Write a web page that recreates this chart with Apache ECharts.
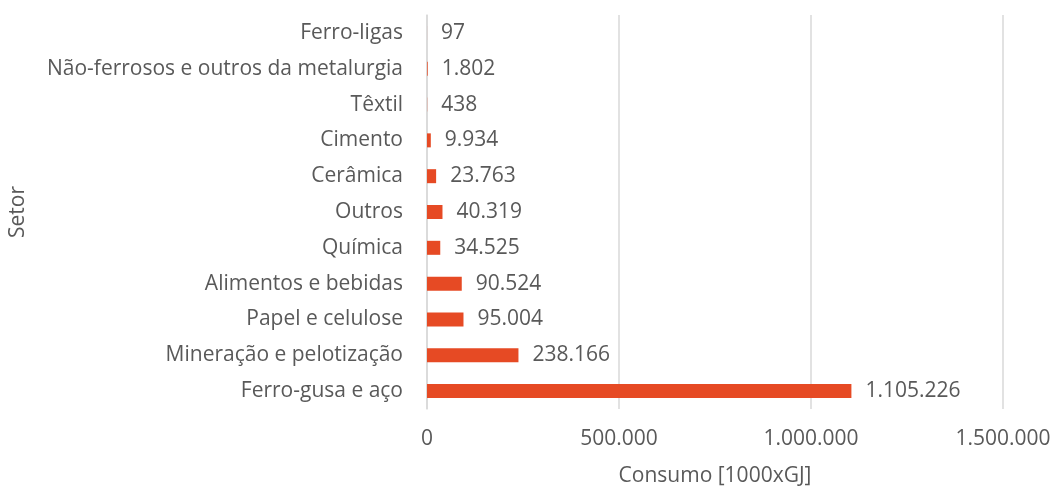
<!DOCTYPE html>
<html>
<head>
<meta charset="utf-8">
<script src="https://cdn.jsdelivr.net/npm/echarts@6/dist/echarts.min.js"></script>
<style>
html, body { margin: 0; padding: 0; background: #fff; }
#chart { width: 1053px; height: 486px; }
</style>
</head>
<body>
<div id="chart"></div>
<script>
// setores, de baixo para cima
var setores = ['Ferro-gusa e aço', 'Mineração e pelotização', 'Papel e celulose',
    'Alimentos e bebidas', 'Química', 'Outros', 'Cerâmica', 'Cimento', 'Têxtil',
    'Não-ferrosos e outros da metalurgia', 'Ferro-ligas'];
var consumo = [1105226, 238166, 95004, 90524, 34525, 40319, 23763, 9934, 438, 1802, 97];
var xTicks = [0, 500000, 1000000, 1500000];

function fmt(v) {
    return String(v).replace(/\B(?=(\d{3})+(?!\d))/g, '.');
}

var fonte = '"Open Sans", sans-serif';
var cinza = '#595959';

var option = {
    animation: false,
    grid: { left: 427, right: 50, top: 15, bottom: 77, outerBoundsMode: 'none' },
    xAxis: {
        type: 'value',
        min: xTicks[0],
        max: xTicks[xTicks.length - 1],
        interval: 500000,
        name: 'Consumo [1000xGJ]',
        nameLocation: 'middle',
        nameGap: 57,
        nameTextStyle: { color: cinza, fontSize: 21, fontFamily: fonte },
        axisLine: { show: false },
        axisTick: { show: false },
        axisLabel: { color: cinza, fontSize: 21, fontFamily: fonte, margin: 20, formatter: fmt },
        splitLine: { lineStyle: { color: '#d9d9d9', width: 1.5 } }
    },
    yAxis: {
        type: 'category',
        data: setores,
        name: 'Setor',
        nameLocation: 'middle',
        nameGap: 398,
        nameRotate: 90,
        nameTextStyle: { color: cinza, fontSize: 21, fontFamily: fonte },
        axisLine: { show: true, lineStyle: { color: '#d9d9d9', width: 1.5 } },
        axisTick: { show: false },
        axisLabel: { color: cinza, fontSize: 21, fontFamily: fonte, margin: 24 }
    },
    series: [{
        type: 'bar',
        data: consumo,
        barWidth: 14,
        itemStyle: { color: '#E64A24' },
        label: {
            show: true,
            position: 'right',
            distance: 14,
            color: cinza,
            fontSize: 21,
            fontFamily: fonte,
            formatter: function (p) { return fmt(p.value); }
        }
    }]
};

var chart = echarts.init(document.getElementById('chart'));
chart.setOption(option);
</script>
</body>
</html>
